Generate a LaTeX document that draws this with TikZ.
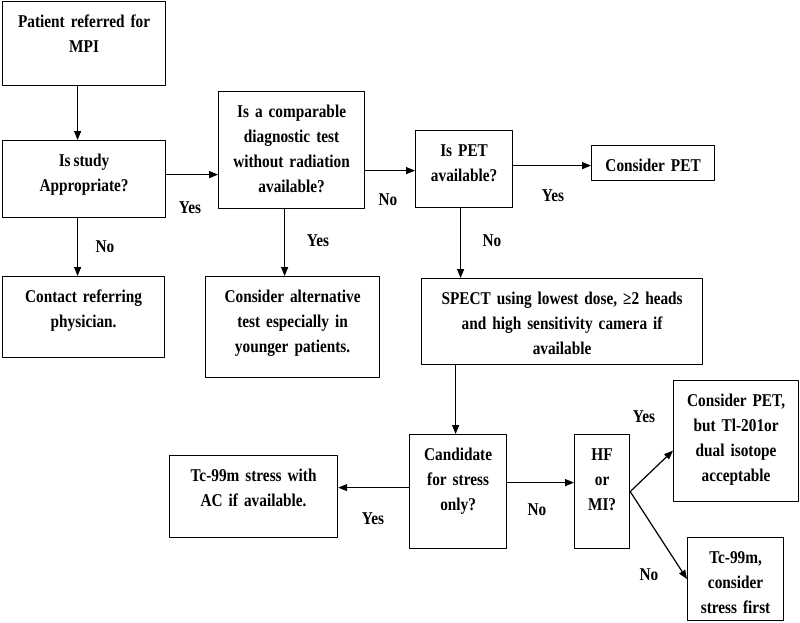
\documentclass[tikz,border=0pt]{standalone}
\usepackage{fontspec}
\setmainfont{Liberation Serif}[FakeStretch=0.85]
\usetikzlibrary{arrows.meta}
\begin{document}
\begin{tikzpicture}[x=1pt,y=-1pt,font=\bfseries\fontsize{18}{25}\selectfont, line join=round, >={Triangle[length=9pt,width=7pt]},
	bx/.style 2 args={draw,line width=1.2pt,anchor=north west,inner sep=0pt,text width=#1pt,align=center,text height=26pt,text depth=#2pt},
	arr/.style={->,line width=1.2pt},
	lbl/.style={inner sep=0pt}]
	\useasboundingbox (0,0) rectangle (800,622);
	% boxes
	\node[bx={163}{58}] (pat) at (2,1) {Patient referred for\\MPI};
	\node[bx={163}{51}] (stu) at (2,140) {Is\hspace{3pt}study\\Appropriate?};
	\node[bx={162}{55}] (con) at (2,276) {Contact referring\\physician.};
	\node[bx={146}{91}] (cmp) at (218,91) {Is a comparable\\diagnostic test\\without radiation\\available?};
	\node[bx={174}{75}] (alt) at (205,276) {Consider alternative\\test especially in\\younger patients.};
	\node[bx={97}{51}] (pet) at (415,130) {Is PET\\available?};
	\node[bx={123}{9}] (cpet) at (591,145) {Consider PET};
	\node[bx={281}{60}] (spect) at (421,278) {SPECT using lowest dose, ≥2 heads\\and high sensitivity camera if\\available};
	\node[bx={97}{88}] (cand) at (409,434) {Candidate\\for stress\\only?};
	\node[bx={168}{56}] (tcs) at (169,455) {Tc-99m stress with\\AC if available.};
	\node[bx={55}{88}] (hf) at (574,434) {HF\\or\\MI?};
	\node[bx={125}{95}] (cpb) at (673,380) {Consider PET,\\but Tl-201or\\dual isotope\\acceptable};
	\node[bx={96}{57}] (tcc) at (687,537) {Tc-99m,\\consider\\stress first};
	% arrows
	\draw[arr] ([xshift=-6.5pt]pat.south) -- ([xshift=-6.5pt]stu.north);
	\draw[arr] ([xshift=-6.5pt]stu.south) -- ([xshift=-6pt]con.north);
	\draw[arr] ([yshift=4.5pt]stu.east) -- ([yshift=4.5pt]stu.east -| cmp.west);
	\draw[arr] ([yshift=-20.5pt]cmp.east) -- ([yshift=-20.5pt]cmp.east -| pet.west);
	\draw[arr] ([xshift=-7pt]cmp.south) -- ([xshift=-7pt]cmp.south |- alt.north);
	\draw[arr] ([yshift=3.5pt]pet.east) -- ([yshift=3.5pt]pet.east -| cpet.west);
	\draw[arr] ([xshift=-3.5pt]pet.south) -- ([xshift=-3.5pt]pet.south |- spect.north);
	\draw[arr] ([xshift=-2.5pt]cand.north |- spect.south) -- ([xshift=-2.5pt]cand.north);
	\draw[arr] ([yshift=4pt]cand.west) -- ([yshift=4pt]cand.west -| tcs.east);
	\draw[arr] ([yshift=9pt]cand.east) -- ([yshift=9pt]cand.east -| hf.west);
	\draw[arr] (hf.east) -- ([yshift=-9.5pt]cpb.west);
	\draw[arr] (hf.east) -- (tcc.west);
	% labels
	\node[lbl] (y1) at (190,208) {Yes};
	\node[lbl] (n1) at (105,247) {No};
	\node[lbl] (n2) at (388,200) {No};
	\node[lbl] (y2) at (318,241) {Yes};
	\node[lbl] (y3) at (553,196) {Yes};
	\node[lbl] (n3) at (492,241) {No};
	\node[lbl] (y4) at (373,519) {Yes};
	\node[lbl] (n4) at (537,510) {No};
	\node[lbl] (y5) at (644,417) {Yes};
	\node[lbl] (n5) at (649,575) {No};
\end{tikzpicture}
\end{document}
